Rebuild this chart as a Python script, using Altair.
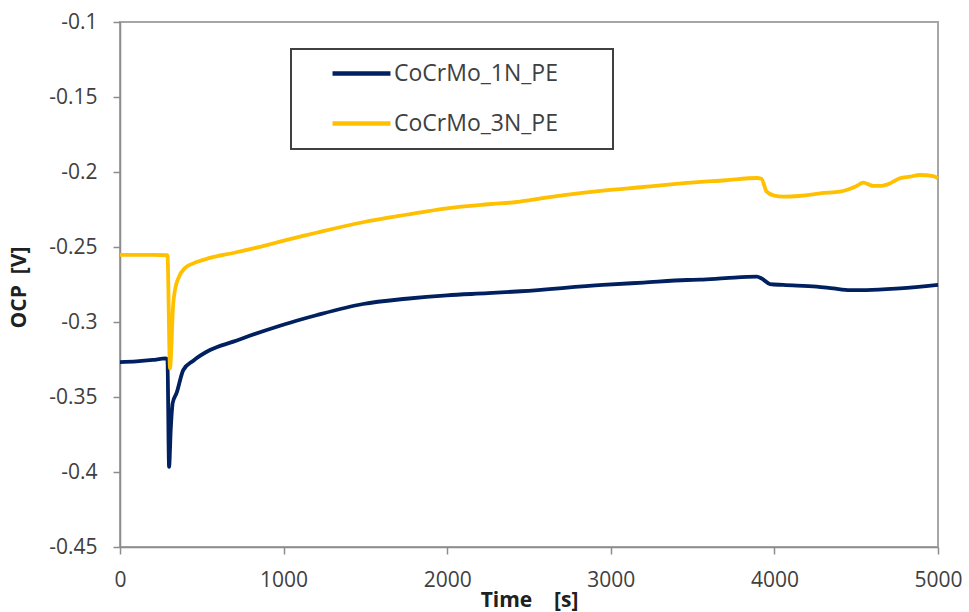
import altair as alt
import pandas as pd

# --- data ---
t_1n = [0, 100, 200, 280, 290, 300, 310, 322, 346, 387, 448, 550, 693, 897, 978,
        1100, 1200, 1485, 1750, 1998, 2250, 2450, 2952, 3200, 3465, 3545, 3700,
        3893, 3922, 3973, 4054, 4258, 4360, 4462, 4563, 4767, 5000]
v_1n = [-0.3267, -0.3262, -0.3253, -0.3243, -0.3250, -0.3965, -0.372, -0.354,
        -0.3473, -0.332, -0.3258, -0.3187, -0.3131, -0.3053, -0.3025, -0.2985,
        -0.2955, -0.2880, -0.2845, -0.2822, -0.2808, -0.2795, -0.2753, -0.2737,
        -0.2720, -0.2718, -0.2708, -0.2698, -0.2710, -0.2747, -0.2753, -0.2764,
        -0.2776, -0.2787, -0.2787, -0.2776, -0.2753]

t_3n = [0, 100, 200, 290, 306, 314, 322, 336, 361, 397, 448, 550, 691, 898, 978,
        1100, 1200, 1485, 1750, 1998, 2250, 2445, 2506, 2952, 3200, 3465, 3700,
        3893, 3920, 3953, 4000, 4054, 4150, 4237, 4278, 4401, 4441, 4503, 4543,
        4604, 4645, 4706, 4767, 4828, 4890, 4971, 5000]
v_3n = [-0.2553, -0.2553, -0.2553, -0.2555, -0.3310, -0.3164, -0.2940, -0.2787,
        -0.2698, -0.2640, -0.2609, -0.2573, -0.2540, -0.2487, -0.2464, -0.2431,
        -0.2405, -0.2335, -0.2285, -0.2242, -0.2215, -0.2198, -0.2187, -0.2124,
        -0.2100, -0.2073, -0.2055, -0.2040, -0.2045, -0.2131, -0.2158, -0.2164,
        -0.2160, -0.2149, -0.2142, -0.2131, -0.2120, -0.2093, -0.2071, -0.2093,
        -0.2093, -0.2076, -0.2042, -0.2031, -0.2020, -0.2027, -0.2042]

series_names = ["CoCrMo_1N_PE", "CoCrMo_3N_PE"]
series_colors = ["#002060", "#FFC000"]
y_ticks = [-0.1, -0.15, -0.2, -0.25, -0.3, -0.35, -0.4, -0.45]
x_ticks = [0, 1000, 2000, 3000, 4000, 5000]

rows = []
for i, (t, v) in enumerate(zip(t_1n, v_1n)):
    rows.append({"t": t, "v": v, "series": series_names[0], "order": i})
for i, (t, v) in enumerate(zip(t_3n, v_3n)):
    rows.append({"t": t, "v": v, "series": series_names[1], "order": i})
df = pd.DataFrame(rows)

FONT = "Open Sans"
TXT = "#404040"
NB = "\u00a0"
ZW = "\u200b"

chart = alt.Chart(df).mark_line(strokeWidth=3.8, strokeJoin="round",
                                interpolate="monotone").encode(
    x=alt.X("t:Q",
            scale=alt.Scale(domain=[0, 5000], nice=False, zero=False),
            axis=alt.Axis(values=x_ticks, title="Time" + NB * 4 + "[s]", grid=False,
                          tickSize=7, labelPadding=15, labelFontSize=21,
                          labelFlush=False, labelExpr="toString(datum.value)",
                          titleX=409, titleY=53, titleBaseline="middle",
                          titleFontSize=21, titleFontWeight="bold")),
    y=alt.Y("v:Q",
            scale=alt.Scale(domain=[-0.45, -0.1], nice=False, zero=False),
            axis=alt.Axis(values=y_ticks, title="OCP" + NB * 2 + "[V]", grid=False,
                          tickSize=7, labelPadding=16, labelFontSize=21,
                          labelFlush=False, labelExpr="toString(datum.value)",
                          titleX=-101, titleY=265, titleAngle=-90,
                          titleBaseline="middle", titleAlign="center",
                          titleFontSize=21, titleFontWeight="bold")),
    color=alt.Color("series:N",
                    scale=alt.Scale(domain=series_names, range=series_colors),
                    legend=alt.Legend(title=None, orient="none",
                                      legendX=171, legendY=27,
                                      symbolType="M-4,0H4", symbolSize=210,
                                      symbolStrokeWidth=4.5,
                                      symbolOffset=46, labelOffset=21,
                                      labelFontSize=23, labelFont=FONT,
                                      labelColor=TXT, rowPadding=26,
                                      labelExpr="datum.label + '" + NB * 7 + ZW + "'",
                                      padding=13, strokeColor="#404040",
                                      fillColor="white",
                                      labelLimit=400)),
    order="order:Q",
).properties(
    width=818, height=525,
    autosize=alt.AutoSizeParams(type="none"),
    padding={"left": 120, "top": 22, "right": 31, "bottom": 65},
).configure_axis(
    domainColor="#8C8C8C", domainWidth=1.5, tickColor="#8C8C8C", tickWidth=1.5,
    labelFont=FONT, titleFont=FONT, labelColor=TXT, titleColor="#202020",
).configure_view(
    stroke="#A6A6A6", strokeWidth=2,
).configure_legend(
    strokeWidth=2,
)

chart.save("out.html", embed_options={"renderer": "svg", "actions": False})
